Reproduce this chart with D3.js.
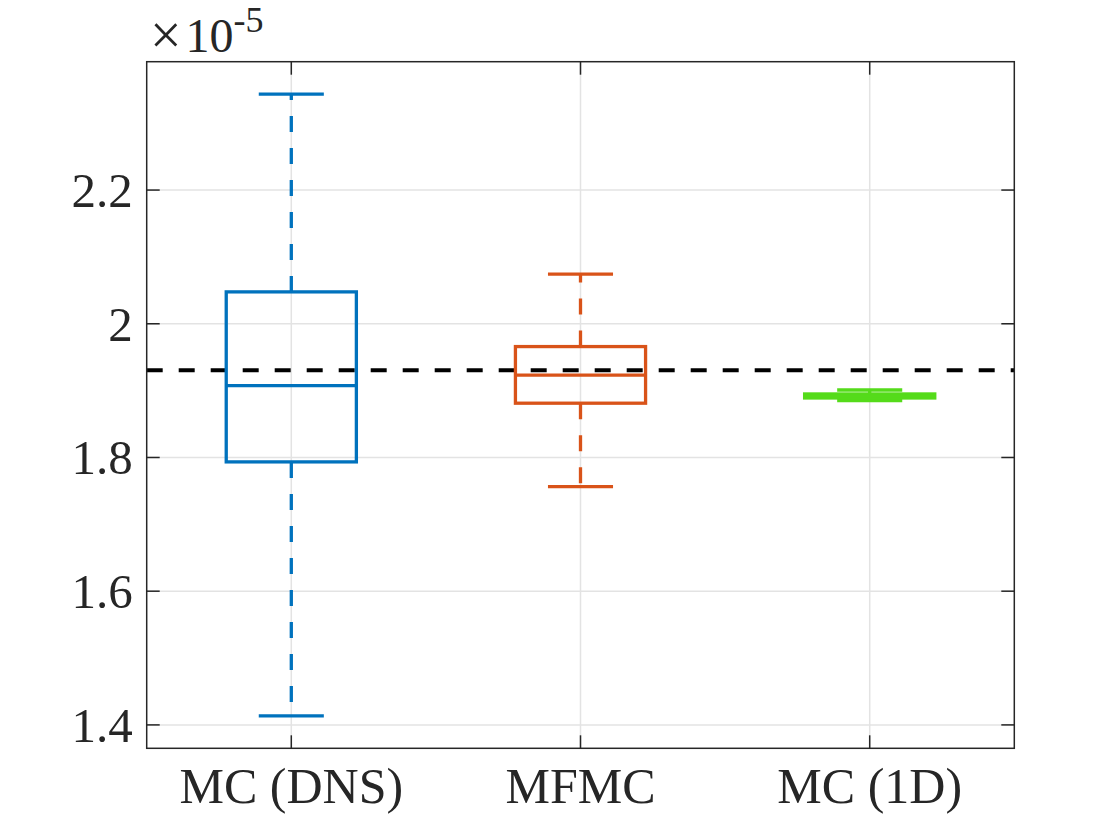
<!DOCTYPE html>
<html>
<head>
<meta charset="utf-8">
<script src="https://cdn.jsdelivr.net/npm/d3@7"></script>
<style>
  body { margin: 0; background: #fff; }
  text { font-family: "Liberation Serif", "Times New Roman", serif; fill: #262626; }
</style>
</head>
<body>
<div id="chart"></div>
<script>
// values are in units of 1e-5
const categories = ['MC (DNS)', 'MFMC', 'MC (1D)'];
const whiskerLow = [1.4135, 1.7565, 1.8851];
const q1 = [1.7934, 1.8812, 1.8890];
const medians = [1.9076, 1.9231, 1.8920];
const q3 = [2.0477, 1.9659, 1.8950];
const whiskerHigh = [2.3435, 2.0742, 1.9009];
const referenceValue = 1.9306;
const yTicks = [1.4, 1.6, 1.8, 2.0, 2.2];
const yTickLabels = ['1.4', '1.6', '1.8', '2', '2.2'];
const colors = ['#0072bd', '#d95319', '#55db1a'];

const width = 1120, height = 840;
const plotLeft = 146.7, plotRight = 1014.3, plotTop = 61.7, plotBottom = 748.3;
const axisColor = '#262626', gridColor = '#e3e3e3';
const tickLen = 13;

const svg = d3.select('#chart').append('svg')
  .attr('width', width)
  .attr('height', height);

const x = d3.scaleLinear().domain([0.5, 3.5]).range([plotLeft, plotRight]);
const y = d3.scaleLinear().domain([1.365, 2.392]).range([plotBottom, plotTop]);
const xs = categories.map((c, i) => i + 1);

// grid
const grid = svg.append('g');
grid.selectAll('.gy').data(yTicks).enter().append('line')
  .attr('x1', plotLeft).attr('x2', plotRight)
  .attr('y1', d => y(d)).attr('y2', d => y(d))
  .attr('stroke', gridColor).attr('stroke-width', 1.5);
grid.selectAll('.gx').data(xs).enter().append('line')
  .attr('x1', d => x(d)).attr('x2', d => x(d))
  .attr('y1', plotTop).attr('y2', plotBottom)
  .attr('stroke', gridColor).attr('stroke-width', 1.5);

// reference line
svg.append('line')
  .attr('x1', plotLeft).attr('x2', plotRight)
  .attr('y1', y(referenceValue)).attr('y2', y(referenceValue))
  .attr('stroke', '#000').attr('stroke-width', 4)
  .attr('stroke-dasharray', '16,16');

// boxes
const boxW = 0.45, capW = 0.225;
const boxes = svg.append('g').selectAll('g').data(xs).enter().append('g')
  .attr('stroke', (d, i) => colors[i])
  .attr('stroke-width', 3.3)
  .attr('fill', 'none');

// whiskers drawn from box outward
boxes.append('line')
  .attr('x1', d => x(d)).attr('x2', d => x(d))
  .attr('y1', (d, i) => y(q3[i])).attr('y2', (d, i) => y(whiskerHigh[i]))
  .attr('stroke-dasharray', '16,16');
boxes.append('line')
  .attr('x1', d => x(d)).attr('x2', d => x(d))
  .attr('y1', (d, i) => y(q1[i])).attr('y2', (d, i) => y(whiskerLow[i]))
  .attr('stroke-dasharray', '16,16');

// caps
[whiskerHigh, whiskerLow].forEach(arr => {
  boxes.append('line')
    .attr('x1', d => x(d - capW / 2)).attr('x2', d => x(d + capW / 2))
    .attr('y1', (d, i) => y(arr[i])).attr('y2', (d, i) => y(arr[i]));
});

boxes.append('rect')
  .attr('x', d => x(d - boxW / 2))
  .attr('width', x(1 + boxW / 2) - x(1 - boxW / 2))
  .attr('y', (d, i) => y(q3[i]))
  .attr('height', (d, i) => y(q1[i]) - y(q3[i]));

boxes.append('line')
  .attr('x1', d => x(d - boxW / 2)).attr('x2', d => x(d + boxW / 2))
  .attr('y1', (d, i) => y(medians[i])).attr('y2', (d, i) => y(medians[i]));

// axes frame and ticks
const ax = svg.append('g').attr('stroke', axisColor).attr('stroke-width', 1.5);
ax.append('rect')
  .attr('x', plotLeft).attr('y', plotTop)
  .attr('width', plotRight - plotLeft).attr('height', plotBottom - plotTop)
  .attr('fill', 'none');
yTicks.forEach(t => {
  ax.append('line').attr('x1', plotLeft).attr('x2', plotLeft + tickLen).attr('y1', y(t)).attr('y2', y(t));
  ax.append('line').attr('x1', plotRight).attr('x2', plotRight - tickLen).attr('y1', y(t)).attr('y2', y(t));
});
xs.forEach(t => {
  ax.append('line').attr('x1', x(t)).attr('x2', x(t)).attr('y1', plotBottom).attr('y2', plotBottom - tickLen);
  ax.append('line').attr('x1', x(t)).attr('x2', x(t)).attr('y1', plotTop).attr('y2', plotTop + tickLen);
});

// tick labels
svg.append('g').selectAll('text').data(yTicks).enter().append('text')
  .attr('x', plotLeft - 14)
  .attr('y', d => y(d) + 17)
  .attr('text-anchor', 'end')
  .attr('font-size', 49)
  .text((d, i) => yTickLabels[i]);

svg.append('g').selectAll('text').data(xs).enter().append('text')
  .attr('x', d => x(d))
  .attr('y', plotBottom + 55)
  .attr('text-anchor', 'middle')
  .attr('font-size', 50)
  .text((d, i) => categories[i]);

// exponent label
const expo = svg.append('text').attr('x', 150).attr('y', 52).attr('font-size', 48);
expo.append('tspan').attr('font-size', 56).attr('dy', 2).text('\u00d7');
expo.append('tspan').attr('dx', 4).attr('dy', -2).text('10');
expo.append('tspan').attr('font-size', 36).attr('dy', -20).text('-5');
</script>
</body>
</html>
